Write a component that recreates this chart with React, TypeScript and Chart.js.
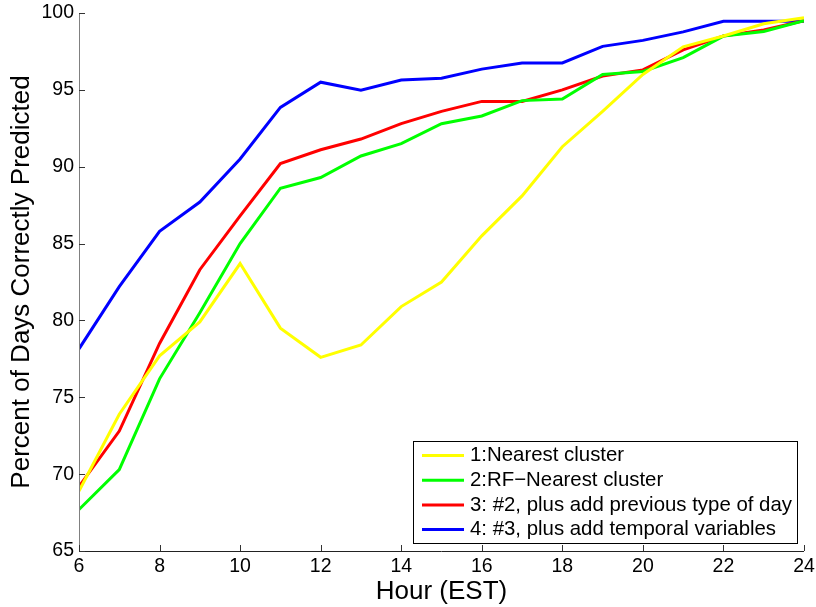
import React, { useEffect, useRef } from "react";
import { Chart, registerables } from "chart.js";

Chart.register(...registerables);

const hours = [6, 7, 8, 9, 10, 11, 12, 13, 14, 15, 16, 17, 18, 19, 20, 21, 22, 23, 24];
const nearestCluster = [68.9, 73.9, 77.7, 79.9, 83.7, 79.5, 77.6, 78.4, 80.9, 82.5, 85.5, 88.1, 91.3, 93.6, 96.0, 97.8, 98.5, 99.3, 99.7];
const rfNearestCluster = [67.7, 70.3, 76.2, 80.5, 85.0, 88.6, 89.3, 90.7, 91.5, 92.8, 93.3, 94.3, 94.4, 96.0, 96.2, 97.1, 98.5, 98.8, 99.5];
const plusPrevType = [69.2, 72.8, 78.5, 83.3, 86.8, 90.2, 91.1, 91.8, 92.8, 93.6, 94.25, 94.25, 95.0, 95.9, 96.3, 97.6, 98.5, 98.9, 99.5];
const plusTemporal = [78.15, 82.2, 85.8, 87.7, 90.5, 93.86, 95.5, 94.97, 95.64, 95.75, 96.35, 96.75, 96.75, 97.83, 98.22, 98.77, 99.46, 99.46, 99.46];

const seriesLabels = [
  "1:Nearest cluster",
  "2:RF\u2212Nearest cluster",
  "3: #2, plus add previous type of day",
  "4: #3, plus add temporal variables",
];
const seriesColors = ["#ffff00", "#00ff00", "#ff0000", "#0000ff"];
const seriesValues = [nearestCluster, rfNearestCluster, plusPrevType, plusTemporal];

const FONT = "'Liberation Sans', Arial, Helvetica, sans-serif";

const decorPlugin = {
  id: "decor",
  afterDraw(chart: any) {
    const ctx = chart.ctx;
    const area = chart.chartArea;
    const xs = chart.scales.x;
    const ys = chart.scales.y;
    ctx.save();
    // axis lines
    ctx.lineWidth = 1;
    ctx.strokeStyle = "#808080";
    ctx.beginPath();
    ctx.moveTo(area.left + 0.5, area.top);
    ctx.lineTo(area.left + 0.5, area.bottom);
    ctx.stroke();
    ctx.strokeStyle = "#222222";
    ctx.beginPath();
    ctx.moveTo(area.left, area.bottom + 0.5);
    ctx.lineTo(area.right, area.bottom + 0.5);
    ctx.stroke();
    // inward ticks
    ctx.strokeStyle = "#333333";
    ys.ticks.forEach((t: any) => {
      const y = Math.round(ys.getPixelForValue(t.value)) + 0.5;
      ctx.beginPath();
      ctx.moveTo(area.left, y);
      ctx.lineTo(area.left + 6, y);
      ctx.stroke();
    });
    xs.ticks.forEach((t: any) => {
      const x = Math.round(xs.getPixelForValue(t.value)) + 0.5;
      ctx.beginPath();
      ctx.moveTo(x, area.bottom);
      ctx.lineTo(x, area.bottom - 6);
      ctx.stroke();
    });
    // legend
    const boxW = 384;
    const boxH = 102;
    const bx = area.right - 7 - boxW;
    const by = area.bottom - 8 - boxH;
    ctx.fillStyle = "#ffffff";
    ctx.fillRect(bx, by, boxW, boxH);
    ctx.strokeStyle = "#000000";
    ctx.lineWidth = 1;
    ctx.strokeRect(bx + 0.5, by + 0.5, boxW, boxH);
    ctx.font = "20.4px " + FONT;
    ctx.textBaseline = "middle";
    ctx.textAlign = "left";
    chart.data.datasets.forEach((ds: any, i: number) => {
      const cy = by + 14.5 + i * 24.7;
      ctx.strokeStyle = ds.borderColor;
      ctx.lineWidth = 3;
      ctx.beginPath();
      ctx.moveTo(bx + 9, cy);
      ctx.lineTo(bx + 51, cy);
      ctx.stroke();
      ctx.fillStyle = "#000000";
      ctx.fillText(ds.label, bx + 57, cy);
    });
    ctx.restore();
  },
};

export default function App() {
  const canvasRef = useRef<HTMLCanvasElement | null>(null);

  useEffect(() => {
    if (!canvasRef.current) return;
    const chart = new Chart(canvasRef.current, {
      type: "line",
      data: {
        datasets: seriesValues.map((vals, i) => ({
          label: seriesLabels[i],
          data: hours.map((h, j) => ({ x: h, y: vals[j] })),
          borderColor: seriesColors[i],
          backgroundColor: seriesColors[i],
          borderWidth: 3,
          pointRadius: 0,
          tension: 0,
          fill: false,
        })),
      },
      options: {
        animation: false,
        responsive: false,
        maintainAspectRatio: false,
        layout: { padding: { top: 13, right: 12, left: 0, bottom: 0 } },
        plugins: {
          legend: { display: false },
          tooltip: { enabled: false },
        },
        scales: {
          x: {
            type: "linear",
            min: 6,
            max: 24,
            ticks: {
              stepSize: 2,
              color: "#000",
              padding: 4,
              maxRotation: 0,
              font: { family: FONT, size: 19.5 },
            },
            grid: { display: false, drawTicks: false },
            border: { display: false },
            title: {
              display: true,
              text: "Hour (EST)",
              color: "#000",
              font: { family: FONT, size: 26 },
              padding: { top: 0, bottom: 0 },
            },
            afterFit: (s: any) => {
              s.height = 56;
              s.paddingRight = 12;
              s.paddingLeft = 0;
            },
          },
          y: {
            type: "linear",
            min: 65,
            max: 100,
            ticks: {
              stepSize: 5,
              color: "#000",
              padding: 5,
              font: { family: FONT, size: 19.5 },
            },
            grid: { display: false, drawTicks: false },
            border: { display: false },
            title: {
              display: true,
              text: "Percent of Days Correctly Predicted",
              color: "#000",
              font: { family: FONT, size: 26 },
              padding: { top: 6, bottom: 0 },
            },
            afterFit: (s: any) => {
              s.width = 79;
              s.paddingTop = 13;
              s.paddingBottom = 0;
            },
          },
        },
      },
      plugins: [decorPlugin],
    });
    return () => chart.destroy();
  }, []);

  return (
    <div style={{ position: "fixed", left: 0, top: 0, width: 816, height: 607, background: "#fff" }}>
      <canvas ref={canvasRef} width={816} height={607} style={{ width: 816, height: 607 }} />
    </div>
  );
}
